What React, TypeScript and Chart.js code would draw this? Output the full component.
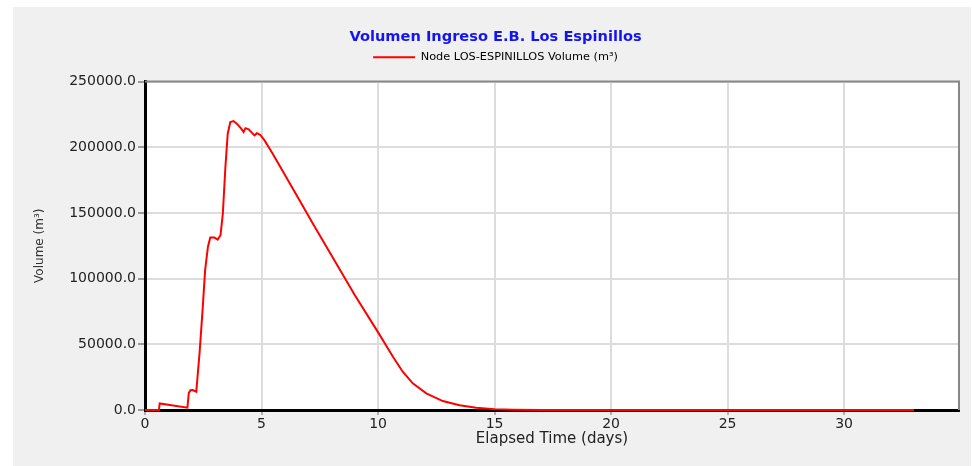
import { useEffect, useRef } from 'react';
import { Chart, registerables } from 'chart.js';

Chart.register(...registerables);

const CHART_TITLE = 'Volumen Ingreso E.B. Los Espinillos';
const SERIES_LABEL = 'Node LOS-ESPINILLOS Volume (m³)';
const X_TITLE = 'Elapsed Time (days)';
const Y_TITLE = 'Volume (m³)';

const TIME_DAYS = [
  0, 0.6, 0.63, 1.82, 1.88, 1.95, 2.05, 2.2, 2.34, 2.48, 2.58, 2.7, 2.8, 2.98,
  3.12, 3.24, 3.34, 3.45, 3.55, 3.66, 3.8, 3.94, 4.13, 4.23, 4.31, 4.45, 4.6,
  4.7, 4.8, 4.94, 5.13, 5.48, 6.0, 6.63, 7.2, 8.0, 9.0, 10.03, 10.64, 11.06,
  11.49, 12.07, 12.78, 13.5, 14.21, 15.0, 15.8, 17, 20, 25, 30, 33,
];
const VOLUME_M3 = [
  0, 0, 5000, 1800, 13000, 15000, 15200, 13900, 43100, 78500, 106400, 124100,
  131200, 131200, 129700, 133000, 149500, 184900, 210300, 219100, 219900,
  217900, 214100, 211500, 214500, 213600, 210700, 209000, 210700, 209500,
  205200, 195100, 179000, 159600, 141900, 117700, 87500, 58300, 40500, 29100,
  20300, 12700, 6800, 3600, 1750, 500, 150, 50, 30, 20, 10, 0,
];
const X_TICKS = [0, 5, 10, 15, 20, 25, 30];
const Y_TICKS = [0, 50000, 100000, 150000, 200000, 250000];
const X_MIN = 0;
const X_MAX = 34.93;
const Y_MIN = 0;
const Y_MAX = 250000;

const FONT = "'DejaVu Sans', 'Liberation Sans', sans-serif";

export default function App() {
  const ref = useRef<HTMLCanvasElement>(null);

  useEffect(() => {
    const canvas = ref.current;
    if (!canvas) return;

    const framePlugin = {
      id: 'frame',
      beforeDraw(chart: any) {
        const { ctx, chartArea } = chart;
        const { left, top, right, bottom } = chartArea;
        ctx.save();
        ctx.fillStyle = '#ffffff';
        ctx.fillRect(left, top, right - left, bottom - top);
        ctx.restore();
      },
      afterDraw(chart: any) {
        const { ctx, chartArea } = chart;
        const { left, top, right, bottom } = chartArea;
        ctx.save();
        ctx.strokeStyle = '#878787';
        ctx.lineWidth = 2;
        ctx.beginPath();
        ctx.moveTo(left, top);
        ctx.lineTo(right, top);
        ctx.lineTo(right, bottom);
        ctx.stroke();
        ctx.restore();
      },
    };

    const points = TIME_DAYS.map((t, i) => ({ x: t, y: VOLUME_M3[i] }));

    const chart = new Chart(canvas, {
      type: 'line',
      data: {
        datasets: [
          {
            label: SERIES_LABEL,
            data: points,
            borderColor: 'rgb(255,0,0)',
            backgroundColor: 'rgb(255,0,0)',
            borderWidth: 2,
            pointRadius: 0,
            tension: 0,
            fill: false,
            clip: { left: 0, top: 0, right: 0, bottom: 1 } as any,
          },
        ],
      },
      options: {
        responsive: false,
        animation: false,
        parsing: false as any,
        layout: { padding: { left: 7, right: 0, top: 0, bottom: 0 } },
        plugins: {
          title: {
            display: true,
            text: CHART_TITLE,
            color: '#1414f0',
            font: { family: FONT, size: 14.6, weight: 'bold' },
            padding: { top: 21.2, bottom: 4.0 },
          },
          subtitle: {
            display: true,
            text: '',
            weight: 500,
            font: { family: FONT, size: 1, lineHeight: 1 },
            padding: { top: 0, bottom: 7.5 },
          } as any,
          legend: {
            display: true,
            labels: {
              boxWidth: 42,
              boxHeight: 2,
              padding: 2,
              color: '#333333',
              font: { family: FONT, size: 11.3 },
              generateLabels: () => [
                {
                  text: SERIES_LABEL,
                  fillStyle: 'rgb(255,0,0)',
                  strokeStyle: 'rgb(255,0,0)',
                  lineWidth: 0,
                  hidden: false,
                  datasetIndex: 0,
                } as any,
              ],
            },
          },
          tooltip: { enabled: false },
        },
        scales: {
          x: {
            type: 'linear',
            min: X_MIN,
            max: X_MAX,
            afterBuildTicks: (s: any) => {
              s.ticks = X_TICKS.map((v) => ({ value: v }));
            },
            afterFit: (s: any) => {
              s.height = 56;
              s.paddingRight = 12;
            },
            grid: {
              color: '#dcdcdc',
              lineWidth: 2,
              tickLength: 5,
              tickColor: '#b0b0b0',
            },
            border: { color: '#000000', width: 3 },
            ticks: {
              color: '#222222',
              font: { family: FONT, size: 14 },
              padding: 1,
              maxRotation: 0,
              autoSkip: false,
              callback: (v: any) => String(v),
            },
            title: {
              display: true,
              text: X_TITLE,
              color: '#222222',
              font: { family: FONT, size: 15 },
              padding: { top: 0, bottom: 18 },
            },
          },
          y: {
            type: 'linear',
            min: Y_MIN,
            max: Y_MAX,
            afterBuildTicks: (s: any) => {
              s.ticks = Y_TICKS.map((v) => ({ value: v }));
            },
            afterFit: (s: any) => {
              s.width = 125;
            },
            grid: {
              color: '#dcdcdc',
              lineWidth: 2,
              tickLength: 7,
              tickColor: '#9a9a9a',
            },
            border: { color: '#000000', width: 3 },
            ticks: {
              color: '#222222',
              font: { family: FONT, size: 14 },
              padding: 2,
              callback: (v: any) => Number(v).toFixed(1),
            },
            title: {
              display: true,
              text: Y_TITLE,
              color: '#333333',
              font: { family: FONT, size: 12 },
              padding: { top: 13, bottom: 0 },
            },
          },
        },
      },
      plugins: [framePlugin],
    });

    return () => chart.destroy();
  }, []);

  return (
    <div
      style={{
        position: 'absolute',
        left: 13,
        top: 7,
        width: 958,
        height: 459,
        background: '#f0f0f0',
      }}
    >
      <canvas ref={ref} width={958} height={459} style={{ display: 'block' }} />
    </div>
  );
}
